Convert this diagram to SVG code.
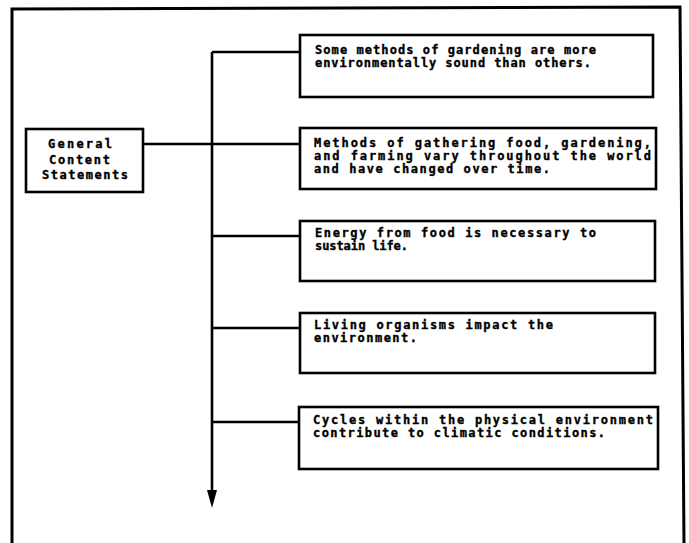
<svg xmlns="http://www.w3.org/2000/svg" width="689" height="543" viewBox="0 0 689 543">
<style>
.frame{fill:none;stroke:#000;stroke-width:3}
.box{fill:#fff;stroke:#000;stroke-width:2.6}
.conn{fill:none;stroke:#000;stroke-width:2.6}
.t{font-family:"DejaVu Sans Mono","Liberation Mono",monospace;font-weight:bold;font-size:12px;fill:#000;stroke:#000;stroke-width:0.35}
</style>
<rect width="689" height="543" fill="#fff"/>
<path class="frame" d="M12,545 L12,9 L680,7 L684,545"/>
<g id="connectors">
<path class="conn" d="M212,52 L212,493"/>
<path d="M207,490 L217,490 L212,508 Z" fill="#000"/>
<path class="conn" d="M212,52 L300,52"/>
<path class="conn" d="M143,144 L300,144"/>
<path class="conn" d="M212,236 L300,236"/>
<path class="conn" d="M212,328 L300,328"/>
<path class="conn" d="M212,422 L299,422"/>
</g>
<g id="general">
<rect class="box" x="26" y="129" width="117" height="63"/>
<text class="t" x="48" y="148" textLength="64" lengthAdjust="spacing">General</text>
<text class="t" x="49" y="164" textLength="61" lengthAdjust="spacing">Content</text>
<text class="t" x="42" y="179" textLength="86" lengthAdjust="spacing">Statements</text>
</g>
<g id="s1">
<rect class="box" x="300" y="35" width="353" height="62"/>
<text class="t" x="315" y="54" textLength="281" lengthAdjust="spacing">Some methods of gardening are more</text>
<text class="t" x="315" y="67" textLength="276" lengthAdjust="spacing">environmentally sound than others.</text>
</g>
<g id="s2">
<rect class="box" x="300" y="128" width="356" height="61"/>
<text class="t" x="314" y="147" textLength="337" lengthAdjust="spacing">Methods of gathering food, gardening,</text>
<text class="t" x="314" y="160" textLength="337" lengthAdjust="spacing">and farming vary throughout the world</text>
<text class="t" x="314" y="173" textLength="236" lengthAdjust="spacing">and have changed over time.</text>
</g>
<g id="s3">
<rect class="box" x="300" y="221" width="355" height="60"/>
<text class="t" x="315" y="237" textLength="281" lengthAdjust="spacing">Energy from food is necessary to</text>
<text class="t" x="315" y="250" textLength="93" lengthAdjust="spacing">sustain life.</text>
</g>
<g id="s4">
<rect class="box" x="300" y="313" width="355" height="60"/>
<text class="t" x="314" y="329" textLength="239" lengthAdjust="spacing">Living organisms impact the</text>
<text class="t" x="314" y="342" textLength="103" lengthAdjust="spacing">environment.</text>
</g>
<g id="s5">
<rect class="box" x="299" y="407" width="359" height="62"/>
<text class="t" x="313" y="424" textLength="340" lengthAdjust="spacing">Cycles within the physical environment</text>
<text class="t" x="313" y="437" textLength="292" lengthAdjust="spacing">contribute to climatic conditions.</text>
</g>
</svg>
